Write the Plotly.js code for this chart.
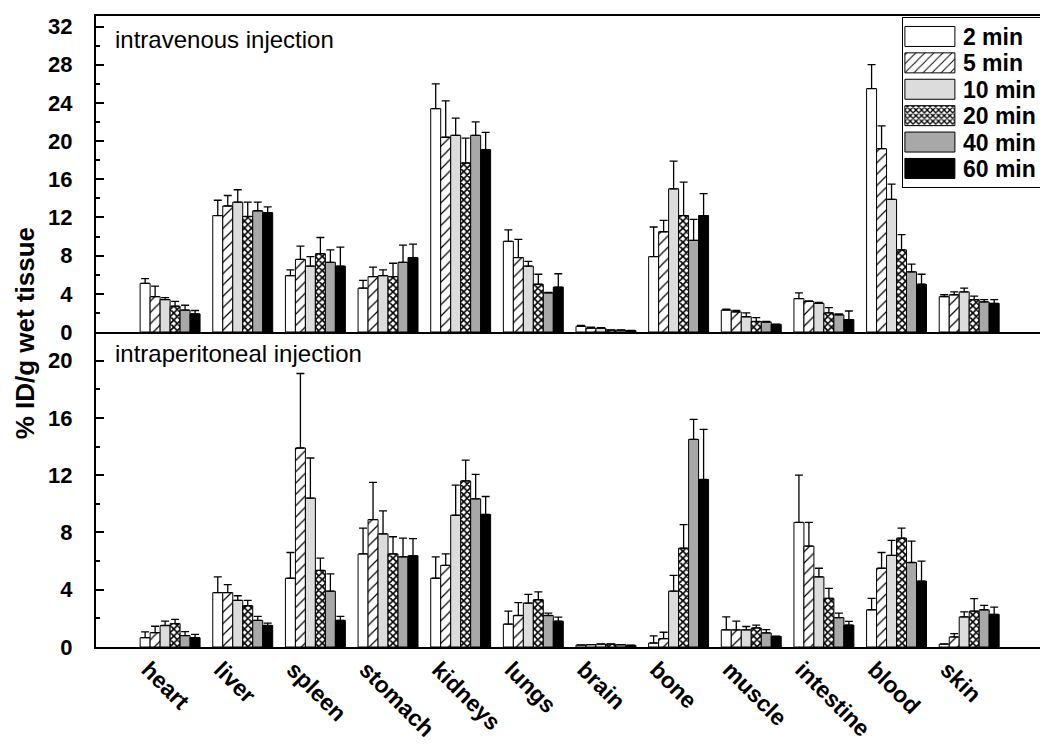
<!DOCTYPE html>
<html>
<head>
<meta charset="utf-8">
<script src="https://cdn.plot.ly/plotly-3.0.1.min.js"></script>
<style>
html,body{margin:0;padding:0;overflow:hidden;background:#fff;}
#chart{width:1070px;height:745px;}
</style>
</head>
<body>
<div id="chart"></div>
<script>
const categories = ['heart','liver','spleen','stomach','kidneys','lungs','brain','bone','muscle','intestine','blood','skin'];
const seriesNames = ['2 min','5 min','10 min','20 min','40 min','60 min'];

// intravenous injection (means, upper error)
const iv_2   = [5.1, 12.2, 5.9, 4.6, 23.4, 9.5, 0.6, 7.9, 2.3, 3.5, 25.5, 3.7];
const iv_2e  = [0.5, 1.6, 0.6, 0.8, 2.6, 1.2, 0.1, 3.1, 0.1, 0.6, 2.5, 0.2];
const iv_5   = [3.7, 13.2, 7.6, 5.8, 20.4, 7.8, 0.4, 10.5, 2.1, 3.2, 19.2, 3.9];
const iv_5e  = [1.1, 1.1, 1.4, 1.0, 3.8, 1.9, 0.1, 1.2, 0.15, 0.05, 2.4, 0.3];
const iv_10  = [3.4, 13.6, 6.9, 5.9, 20.6, 6.9, 0.4, 15.0, 1.6, 3.0, 13.9, 4.2];
const iv_10e = [0.2, 1.3, 1.0, 0.6, 1.8, 0.5, 0.05, 2.9, 0.4, 0.1, 1.6, 0.4];
const iv_20  = [2.7, 12.1, 8.2, 5.8, 17.7, 5.0, 0.2, 12.2, 1.1, 2.0, 8.6, 3.4];
const iv_20e = [0.5, 1.5, 1.7, 1.4, 2.6, 1.05, 0.02, 3.5, 0.4, 0.55, 1.6, 0.35];
const iv_40  = [2.3, 12.7, 7.3, 7.3, 20.6, 4.1, 0.2, 9.6, 1.05, 1.8, 6.3, 3.15];
const iv_40e = [0.5, 0.9, 1.3, 1.8, 1.4, 0.05, 0.02, 2.2, 0.07, 0.1, 0.8, 0.25];
const iv_60  = [1.9, 12.5, 6.9, 7.8, 19.1, 4.7, 0.15, 12.2, 0.8, 1.3, 5.0, 3.0];
const iv_60e = [0.35, 0.6, 2.0, 1.4, 1.8, 1.4, 0.01, 2.3, 0.03, 0.9, 1.05, 0.4];

// intraperitoneal injection (means, upper error)
const ip_2   = [0.65, 3.8, 4.8, 6.5, 4.8, 1.6, 0.14, 0.28, 1.2, 8.7, 2.6, 0.2];
const ip_2e  = [0.4, 1.1, 1.8, 1.8, 1.5, 0.9, 0.01, 0.5, 0.9, 3.3, 0.8, 0.02];
const ip_5   = [1.0, 3.8, 13.9, 8.9, 5.7, 2.2, 0.16, 0.58, 1.2, 7.05, 5.5, 0.7];
const ip_5e  = [0.45, 0.55, 5.2, 2.6, 0.8, 0.9, 0.01, 0.45, 0.6, 1.65, 1.1, 0.23];
const ip_10  = [1.5, 3.26, 10.4, 7.9, 9.2, 3.07, 0.2, 3.9, 1.2, 4.9, 6.4, 2.1];
const ip_10e = [0.3, 0.32, 2.8, 1.6, 2.1, 0.6, 0.01, 1.1, 0.23, 0.6, 1.05, 0.35];
const ip_20  = [1.63, 2.88, 5.35, 6.5, 11.6, 3.3, 0.2, 6.9, 1.33, 3.4, 7.6, 2.5];
const ip_20e = [0.3, 0.38, 0.85, 1.2, 1.45, 0.55, 0.01, 1.65, 0.2, 0.7, 0.7, 0.88];
const ip_40  = [0.8, 1.86, 3.9, 6.3, 10.35, 2.2, 0.16, 14.5, 0.98, 2.05, 5.9, 2.6];
const ip_40e = [0.28, 0.28, 1.2, 1.3, 1.7, 0.16, 0.01, 1.4, 0.23, 0.32, 1.5, 0.3];
const ip_60  = [0.65, 1.5, 1.86, 6.37, 9.26, 1.8, 0.12, 11.7, 0.74, 1.53, 4.6, 2.28];
const ip_60e = [0.23, 0.17, 0.28, 1.2, 1.25, 0.28, 0.01, 3.5, 0.02, 0.26, 1.4, 0.5];

const ivSeries = [[iv_2, iv_2e], [iv_5, iv_5e], [iv_10, iv_10e], [iv_20, iv_20e], [iv_40, iv_40e], [iv_60, iv_60e]];
const ipSeries = [[ip_2, ip_2e], [ip_5, ip_5e], [ip_10, ip_10e], [ip_20, ip_20e], [ip_40, ip_40e], [ip_60, ip_60e]];

const styles = [
  {color: '#ffffff', pattern: {shape: ''}},
  {color: '#ffffff', pattern: {shape: '/', fgcolor: '#000', bgcolor: '#fff', size: 8, solidity: 0.15, fillmode: 'replace'}},
  {color: '#dcdcdc', pattern: {shape: ''}},
  {color: '#ffffff', pattern: {shape: 'x', fgcolor: '#000', bgcolor: '#fff', size: 5, solidity: 0.55, fillmode: 'replace'}},
  {color: '#a8a8a8', pattern: {shape: ''}},
  {color: '#000000', pattern: {shape: ''}}
];

const traces = [];
function addTraces(series, xa, ya, showLegend) {
  series.forEach((s, i) => {
    traces.push({
      type: 'bar',
      name: seriesNames[i],
      x: categories,
      y: s[0],
      xaxis: xa, yaxis: ya,
      showlegend: showLegend,
      legendgroup: seriesNames[i],
      marker: {color: styles[i].color, pattern: styles[i].pattern, line: {color: '#000', width: 1}},
      error_y: {type: 'data', array: s[1], arrayminus: s[1].map(() => 0), symmetric: false,
                color: '#000', thickness: 1.3, width: 4},
      hoverinfo: 'x+y+name'
    });
  });
}
addTraces(ivSeries, 'x', 'y', true);
addTraces(ipSeries, 'x2', 'y2', false);

const FAM = 'Liberation Sans, Arial, sans-serif';
const yTickFont = {family: FAM, size: 22, color: '#000', weight: 'bold'};
const xTickFont = {family: FAM, size: 23, color: '#000', weight: 'bold'};
const xr = [-1.02, 12.25];
const split = 0.4992;

const layout = {
  width: 1070, height: 745,
  margin: {l: 96, r: 10, t: 16, b: 98},
  paper_bgcolor: '#fff', plot_bgcolor: '#fff',
  barmode: 'group', bargap: 0.175, bargroupgap: 0,
  font: {family: FAM, color: '#000'},
  xaxis: {domain: [0, 1], anchor: 'y', type: 'category', range: xr, showticklabels: false,
          showline: true, linecolor: '#000', linewidth: 2, mirror: true,
          ticks: 'inside', ticklen: 3, tickcolor: '#000', showgrid: false, zeroline: false},
  yaxis: {domain: [split, 1], anchor: 'x', range: [0, 33.1], dtick: 4, tick0: 0,
          ticks: 'inside', ticklen: 8, tickwidth: 1.5, tickcolor: '#000',
          minor: {dtick: 2, ticks: 'inside', ticklen: 4, tickcolor: '#000'},
          showline: true, linecolor: '#000', linewidth: 2, mirror: true,
          showgrid: false, zeroline: false, tickfont: yTickFont, ticklabelstandoff: 17},
  xaxis2: {domain: [0, 1], anchor: 'y2', type: 'category', range: xr,
           showline: true, linecolor: '#000', linewidth: 2,
           ticks: 'inside', ticklen: 3, tickcolor: '#000',
           tickangle: 45, tickfont: xTickFont, ticklabelshift: -22, ticklabelstandoff: -2,
           showgrid: false, zeroline: false},
  yaxis2: {domain: [0, split], anchor: 'x2', range: [0, 22], dtick: 4, tick0: 0,
           ticks: 'inside', ticklen: 8, tickwidth: 1.5, tickcolor: '#000',
           minor: {dtick: 2, ticks: 'inside', ticklen: 4, tickcolor: '#000'},
           showline: true, linecolor: '#000', linewidth: 2, mirror: true,
           showgrid: false, zeroline: false, tickfont: yTickFont, ticklabelstandoff: 17},
  legend: {x: 0.836, y: 0.998, xanchor: 'left', yanchor: 'top',
           bgcolor: '#fff', bordercolor: '#000', borderwidth: 1,
           font: {family: FAM, size: 18, color: '#000', weight: 'bold'},
           tracegroupgap: 0, itemwidth: 50},
  annotations: [
    {text: '% ID/g wet tissue', xref: 'paper', yref: 'paper', x: -0.0737, y: 0.497,
     textangle: -90, showarrow: false, xanchor: 'center', yanchor: 'middle',
     font: {family: FAM, size: 26, color: '#000', weight: 'bold'}},
    {text: 'intravenous injection', xref: 'paper', yref: 'paper', x: 0.0176, y: 0.962,
     showarrow: false, xanchor: 'left', yanchor: 'middle',
     font: {family: FAM, size: 24, color: '#000'}},
    {text: 'intraperitoneal injection', xref: 'paper', yref: 'paper', x: 0.0176, y: 0.465,
     showarrow: false, xanchor: 'left', yanchor: 'middle',
     font: {family: FAM, size: 24, color: '#000'}}
  ]
};

const gd = document.getElementById('chart');
Plotly.newPlot(gd, traces, layout, {displayModeBar: false, responsive: false}).then(() => {
  // legend styling closer to the original: wide swatches, larger labels, wider box
  gd.querySelectorAll('.legend .traces').forEach(tr => {
    const p = tr.querySelector('.legendpoints path');
    if (p) {
      const trM = tr.getCTM(), pM = p.getCTM();
      const cx = pM.e - trM.e;
      const left = 2 - cx, right = 52 - cx;
      p.setAttribute('d', 'M' + right + ',10H' + left + 'V-10H' + right + 'Z');
    }
    const t = tr.querySelector('text.legendtext');
    if (t) {
      t.style.fontSize = '23px';
      t.setAttribute('y', '8.5');
    }
  });
  gd.querySelectorAll('.legend [clip-path]').forEach(el => el.removeAttribute('clip-path'));
  const bg = gd.querySelector('.legend rect.bg');
  if (bg) bg.setAttribute('width', String(parseFloat(bg.getAttribute('width')) + 50));
});
</script>
</body>
</html>
